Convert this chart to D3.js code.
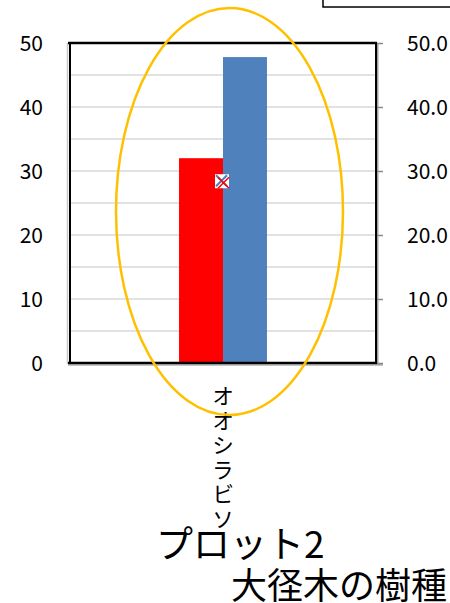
<!DOCTYPE html>
<html>
<head>
<meta charset="utf-8">
<script src="https://cdn.jsdelivr.net/npm/d3@7"></script>
<style>
  html, body { margin: 0; padding: 0; background: #fff; }
  svg { display: block; font-family: "Noto Sans CJK JP", "Noto Sans", sans-serif; }
</style>
</head>
<body>
<svg id="chart" width="450" height="603"></svg>
<script>
// Tree species in plot 2 (large-diameter trees)
const categories = ["オオシラビソ"];
const seriesNames = ["本数", "胸高断面積"];
const seriesColors = ["#ff0000", "#4f81bd"];
const seriesValues = [[32], [47.8]];
const markerValues = [28.4];          // plotted on the secondary axis
const leftTicks = [0, 10, 20, 30, 40, 50];
const rightTicks = [0, 10, 20, 30, 40, 50];
const gridTicks = [5, 10, 15, 20, 25, 30, 35, 40, 45, 50];
const titleLines = ["プロット2", "大径木の樹種"];

const svg = d3.select("#chart");
const plot = { left: 70, right: 376, top: 43, bottom: 363 };

const y = d3.scaleLinear().domain([0, 50]).range([plot.bottom, plot.top]);
const y2 = d3.scaleLinear().domain([0, 50]).range([plot.bottom, plot.top]);

const x = d3.scaleBand().domain(categories)
  .range([plot.left, plot.right]).paddingInner(0).paddingOuter(1.24);
const xs = d3.scaleBand().domain(d3.range(seriesNames.length))
  .range([0, x.bandwidth()]).padding(0);

// gridlines
svg.append("g").selectAll("line").data(gridTicks).join("line")
  .attr("x1", plot.left).attr("x2", plot.right)
  .attr("y1", d => y(d)).attr("y2", d => y(d))
  .attr("stroke", "#d9d9d9").attr("stroke-width", 1.5);

// bars
const barG = svg.append("g");
seriesNames.forEach((s, i) => {
  barG.selectAll(null).data(categories).join("rect")
    .attr("x", c => x(c) + xs(i))
    .attr("width", xs.bandwidth())
    .attr("y", (c, j) => y(seriesValues[i][j]))
    .attr("height", (c, j) => y(0) - y(seriesValues[i][j]))
    .attr("fill", seriesColors[i]);
});

// plot frame and axis lines
svg.append("line").attr("x1", 67.5).attr("x2", 67.5).attr("y1", plot.top).attr("y2", plot.bottom + 1)
  .attr("stroke", "#c8c8c8").attr("stroke-width", 1.5);
svg.append("line").attr("x1", 70).attr("x2", 70).attr("y1", plot.top).attr("y2", plot.bottom)
  .attr("stroke", "#000").attr("stroke-width", 2);
svg.append("line").attr("x1", 68).attr("x2", 377).attr("y1", 43).attr("y2", 43)
  .attr("stroke", "#000").attr("stroke-width", 2.5);
svg.append("line").attr("x1", 376).attr("x2", 376).attr("y1", 42).attr("y2", 364)
  .attr("stroke", "#000").attr("stroke-width", 2);
svg.append("line").attr("x1", 377.8).attr("x2", 377.8).attr("y1", 44).attr("y2", 364)
  .attr("stroke", "#8a8a8a").attr("stroke-width", 1.2);
svg.append("line").attr("x1", 68).attr("x2", 377).attr("y1", 363).attr("y2", 363)
  .attr("stroke", "#000").attr("stroke-width", 2.5);
svg.append("line").attr("x1", 68).attr("x2", 383).attr("y1", 364.8).attr("y2", 364.8)
  .attr("stroke", "#8a8a8a").attr("stroke-width", 1.2);

// left axis
const leftAxis = d3.axisLeft(y).tickValues(leftTicks).tickSize(0).tickPadding(0)
  .tickFormat(d3.format("d"));
const gl = svg.append("g").attr("transform", "translate(43,0)").call(leftAxis);
gl.select(".domain").remove();
gl.selectAll("text").attr("font-size", 21).attr("fill", "#000")
  .attr("font-family", "'Noto Sans CJK JP', sans-serif").attr("dy", "0.36em");

// right axis
const rightAxis = d3.axisRight(y2).tickValues(rightTicks).tickSize(6).tickPadding(24)
  .tickFormat(d3.format(".1f"));
const gr = svg.append("g").attr("transform", "translate(377,0)").call(rightAxis);
gr.select(".domain").remove();
gr.selectAll(".tick line").attr("stroke", "#8a8a8a").attr("stroke-width", 1.5);
gr.selectAll("text").attr("font-size", 21).attr("fill", "#000")
  .attr("font-family", "'Noto Sans CJK JP', sans-serif").attr("dy", "0.36em");

// marker series
const mk = svg.append("g").selectAll("g").data(categories).join("g")
  .attr("transform", (c, j) => `translate(${x(c) + x.bandwidth() / 2 - 1},${y2(markerValues[j])})`);
mk.append("rect").attr("x", -7).attr("y", -7).attr("width", 14).attr("height", 14).attr("fill", "#fff");
mk.append("path").attr("d", "M-6,-6L5,5M5,-6L-6,5")
  .attr("stroke", "#4f81bd").attr("stroke-width", 2).attr("fill", "none");
mk.append("path").attr("d", "M-4,-4L7,7M7,-4L-4,7")
  .attr("stroke", "#ff0000").attr("stroke-width", 1.5).attr("fill", "none");

// category labels, written top to bottom
svg.append("g").selectAll("text").data(categories).join("text")
  .attr("x", c => x(c) + x.bandwidth() / 2).attr("y", 385)
  .attr("writing-mode", "vertical-rl")
  .style("writing-mode", "vertical-rl")
  .style("text-orientation", "upright")
  .attr("letter-spacing", 2.5)
  .attr("font-size", 22).attr("fill", "#000")
  .text(d => d);

// highlight ellipse
svg.append("ellipse").attr("cx", 229.5).attr("cy", 211.5).attr("rx", 113.5).attr("ry", 203.5)
  .attr("fill", "none").attr("stroke", "#ffc000").attr("stroke-width", 2.5);

// legend frame (top right)
svg.append("rect").attr("x", 323).attr("y", -40).attr("width", 200).attr("height", 47)
  .attr("fill", "#fff").attr("stroke", "#000").attr("stroke-width", 1.5);

// titles
svg.append("text").attr("x", 156).attr("y", 558).attr("font-size", 37).attr("fill", "#000").text(titleLines[0]);
svg.append("text").attr("x", 231).attr("y", 599).attr("font-size", 36).attr("fill", "#000").text(titleLines[1]);
</script>
</body>
</html>
